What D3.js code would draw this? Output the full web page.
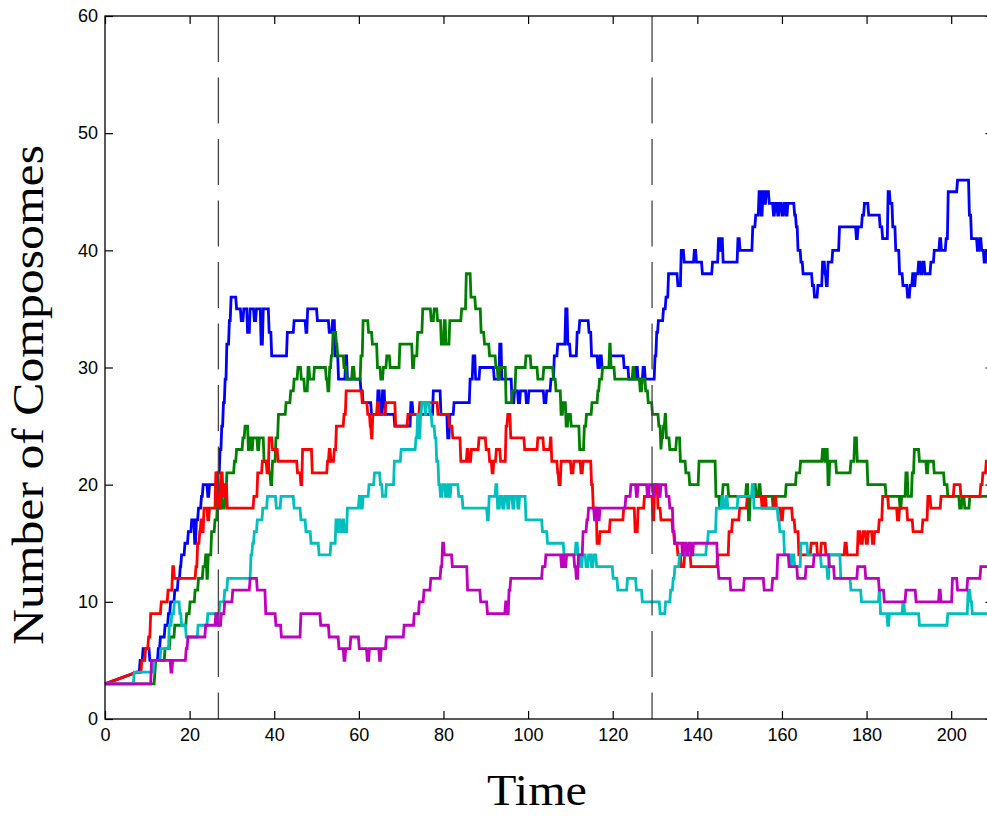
<!DOCTYPE html>
<html>
<head>
<meta charset="utf-8">
<script src="https://cdn.jsdelivr.net/npm/d3@7"></script>
<style>
  body { margin: 0; background: #fff; }
  svg { display: block; }
</style>
</head>
<body>
<svg id="chart" width="987" height="816"></svg>
<script>
// x ticks, y ticks and the two event markers
var xTicks = [0, 20, 40, 60, 80, 100, 120, 140, 160, 180, 200]
var yTicks = [0, 10, 20, 30, 40, 50, 60]
var markers = [26.8, 129.3]

// each run: [time, count] at the moments the count changes
var blueRun = [[0,3],[7.5,4],[8.3,5],[9,6],[10.6,5],[12.6,6],[13.1,7],[14.2,8],[15,9],[15.5,10],[16.5,11],[17.3,12],[17.8,13],[18.1,14],[18.9,15],[19.7,16],[20.5,17],[21.2,15],[21.6,17],[22.1,18],[22.8,19],[23.2,20],[24.3,19],[24.7,20],[26.6,21],[27.2,23],[27.6,25],[28,27],[28.4,29],[28.8,32],[29.4,34],[29.8,36],[31.1,35],[32.2,34],[32.8,35],[33.7,33],[34.3,35],[35.3,34],[35.8,35],[36.9,32],[37.4,35],[38.8,33],[39.4,31],[43.1,33],[44.7,34],[47.5,33],[47.9,35],[50.2,34],[53,33],[53.8,34],[54.4,31],[55.2,29],[56.9,31],[57.3,29],[60.5,28],[61,27],[63,26],[64.5,28],[65,26],[65.6,28],[66.2,26],[68.5,25],[72.3,27],[72.8,26],[77.6,28],[79.4,26],[81,24],[81.5,26],[82.5,27],[86.3,29],[87,31],[87.6,29],[88.6,30],[92,29],[93.3,32],[93.8,29],[96.2,27],[96.8,28],[97.7,27],[98.2,28],[99.6,27],[100.2,28],[103.8,27],[104.4,28],[105.4,29],[106.2,31],[107,32],[108.9,35],[109.4,32],[110,31],[111.6,33],[112.2,34],[114.4,33],[115,31],[116.5,30],[117,31],[117.5,30],[119.4,31],[122.7,30],[123.8,29],[125.5,30],[126,29],[127.2,30],[127.7,29],[130,31],[130.4,33],[130.8,34],[132,35],[132.6,36],[133.2,38],[135.4,37],[136.2,40],[136.9,39],[139.3,40],[139.8,39],[141.2,38],[143.6,39],[145,41],[145.4,40],[145.7,41],[146.1,39],[149.6,41],[150.1,40],[153.1,42],[153.8,43],[154.6,45],[155.1,43],[155.5,45],[156,44],[156.3,45],[157,44],[158,43],[158.4,44],[159,43],[159.4,44],[160,43],[160.5,44],[161,43],[161.4,44],[163,43],[163.4,42],[163.8,40],[164.5,39],[165,38],[167.2,37],[167.7,36],[168.5,37],[169.6,39],[170.2,38],[170.5,37],[170.9,39],[172,40],[173.6,42],[177.6,41],[178,42],[179,43],[179.5,44],[180.5,43],[183.2,42],[183.8,41],[185.1,45],[185.6,44],[186.2,42],[186.9,40],[187.8,38],[188.6,37],[189.7,36],[190.3,37],[190.9,38],[191.3,37],[191.6,38],[192.3,39],[192.8,38],[193.3,39],[193.8,38],[195.2,39],[196,40],[197.3,41],[197.7,40],[198.8,41],[199.3,45],[201.5,46],[204.3,43],[204.8,41],[206.2,40],[206.7,41],[207.2,40],[207.8,39],[208.3,40],[209,40]]

var greenRun = [[0,3],[11.8,4],[12,5],[14.2,6],[15.4,7],[16.5,8],[19.3,9],[20.1,10],[21.3,11],[22.1,12],[23.2,13],[23.8,14],[24.1,12],[24.4,14],[25.2,16],[26,17],[26.6,19],[27,18],[27.4,19],[27.8,18],[28.4,19],[28.8,21],[30.6,22],[31.1,23],[32.6,24],[33.1,25],[33.9,23],[34.2,24],[34.7,23],[35,24],[36.1,23],[36.5,24],[37.6,22],[38.8,21],[39.2,20],[39.6,22],[40.4,24],[41,26],[42.8,27],[43.9,28],[44.7,29],[45.6,30],[46.4,29],[47.2,28],[48,30],[48.4,29],[49.5,30],[52.3,29],[52.7,28],[53.1,30],[53.5,31],[53.9,33],[54.7,32],[55,31],[56.5,30],[57.1,29],[58.5,30],[59,29],[60.5,31],[61,34],[62.3,33],[63.2,32],[64.4,30],[65.2,29],[65.8,30],[66.6,31],[67.4,30],[69.7,32],[72.7,30],[73.1,31],[73.9,33],[75.1,35],[77.1,34],[77.8,35],[78.6,34],[79.5,32],[80.2,34],[80.6,32],[81.5,34],[84.3,35],[85.4,38],[86.5,36],[87.6,35],[88.9,33],[89.7,32],[90.9,31],[92.4,30],[92.9,29],[93.3,30],[94.8,27],[96.3,28],[97.1,30],[99.5,31],[100.7,30],[102.3,29],[103.7,30],[106,29],[106.6,28],[107.8,26],[108.3,27],[109,25],[109.5,26],[110.2,25],[112.2,23],[113.3,25],[113.8,26],[115.1,27],[116.5,28],[116.9,29],[117.6,30],[119.3,32],[119.6,30],[120.5,29],[124.8,30],[125.2,29],[126.5,28],[127,29],[127.8,28],[128.4,27],[129.4,26],[130.9,25],[131.4,23],[131.6,24],[132,25],[132.4,26],[132.7,24],[133.5,23],[135.1,24],[136,22],[137.3,21],[138.2,20],[140.4,22],[144.4,19],[145.3,18],[145.6,19],[146.1,20],[147.4,19],[151.6,20],[152.1,17],[152.5,19],[153.4,20],[153.9,19],[154.6,20],[155,19],[157.9,18],[158.3,19],[161,20],[163.4,21],[164.4,22],[169.6,23],[170.1,22],[170.4,23],[170.9,20],[171.3,22],[172.9,21],[176.3,22],[177.2,24],[177.8,22],[180.3,20],[184.6,19],[187.9,18],[188.3,19],[189.3,21],[189.8,19],[190.8,21],[191.3,23],[192.5,22],[194.2,21],[194.6,22],[196,21],[198.4,20],[199.2,19],[202,18],[202.6,19],[203.2,18],[204.4,19],[209,19]]

var redRun = [[0,3],[7.5,4],[8.7,5],[9.6,6],[10.3,7],[10.8,9],[13.3,10],[14.9,11],[16,13],[16.4,12],[21.5,13],[21.9,15],[22.4,16],[22.7,17],[23.1,16],[23.4,18],[24.3,17],[24.7,18],[26.2,21],[26.8,18],[27.4,21],[27.9,19],[28.4,20],[28.9,18],[35.2,19],[36.1,21],[37.2,22],[38.3,21],[38.8,24],[39.6,23],[40.9,22],[45.5,21],[46.3,20],[46.7,23],[49,21],[52.6,22],[53,23],[53.4,22],[54.2,23],[54.7,25],[56.5,26],[57,28],[60.8,27],[62.1,26],[62.7,25],[63,24],[63.3,26],[64.4,27],[64.8,26],[66.4,27],[68.7,25],[71.6,26],[74.4,27],[78.7,26],[81.4,25],[82.2,24],[84.1,22],[85.6,23],[86,22],[86.6,23],[88.4,24],[90.1,23],[90.9,22],[91.5,21],[91.9,22],[92.5,23],[93.5,22],[94.8,25],[95.2,26],[95.9,24],[99.2,23],[102.3,24],[103.7,23],[105.3,24],[105.6,22],[107,21],[107.3,20],[107.8,22],[110.2,21],[110.8,22],[112.5,21],[113,22],[115,20],[115.4,18],[116.3,15],[117,16],[119.4,17],[122.6,18],[125.3,16],[126,18],[127.5,19],[129.5,17],[129.9,20],[130.7,18],[131.4,17],[132.6,17],[134.2,16],[134.6,15],[135.4,14],[136.2,13],[137,14],[138.5,13],[144.8,14],[147.5,16],[148.3,17],[150,18],[151.8,19],[155.3,18],[155.8,19],[156.3,18],[158.2,19],[158.7,18],[159.8,17],[160.3,18],[162.5,17],[163.1,16],[164,14],[166.9,15],[168.4,14],[169.3,15],[170.4,14],[174.9,15],[175.4,14],[178,16],[178.6,15],[179.2,16],[179.9,15],[180.4,16],[181.4,15],[181.9,16],[183,17],[183.8,19],[185.2,18],[187.3,17],[187.8,18],[189.7,17],[191,16],[193.3,17],[194.5,19],[195.2,18],[197.6,19],[200.7,20],[202.3,19],[207,20],[207.5,21],[208.3,22],[209,22]]

var cyanRun = [[0,3],[6.9,4],[11.6,5],[13.2,6],[15.2,8],[15.8,9],[16.4,10],[17.7,9],[18.1,8],[19.2,7],[22,8],[24.3,9],[26.6,8],[27.1,10],[28.3,11],[29,12],[34.5,14],[34.9,15],[35.3,16],[36,17],[37.3,18],[38.4,19],[40.5,18],[41.6,19],[44.7,18],[46.3,17],[47.5,16],[48.7,15],[50.6,14],[53.4,15],[54.6,17],[55,16],[55.4,17],[55.7,16],[56.2,17],[56.6,16],[57.3,18],[60.1,19],[60.6,18],[61,19],[62.4,20],[63.7,21],[65.1,20],[65.6,19],[66.5,20],[68.4,22],[70,23],[73.5,24],[73.9,26],[74.2,24],[74.6,26],[74.9,27],[75.7,26],[76,27],[76.8,26],[77.3,25],[78,24],[78.4,22],[78.9,20],[79.3,19],[79.8,20],[80.5,19],[81,20],[81.4,19],[81.8,20],[83.6,19],[84.6,18],[90.4,17],[90.8,19],[92.4,20],[92.8,18],[93.4,19],[94,18],[94.5,19],[95.2,18],[95.6,19],[96.4,18],[96.8,19],[97.6,18],[98,19],[99.5,17],[103.4,16],[104.6,15],[108.5,14],[111.3,15],[111.8,14],[112.4,13],[112.9,14],[113.7,13],[114.3,14],[115,13],[115.5,14],[116.2,13],[120.1,12],[121.2,11],[123.5,12],[125.6,11],[127,10],[131.2,9],[132.5,10],[133.7,11],[134.3,12],[134.7,13],[135.8,14],[142.2,15],[142.6,16],[144.5,18],[145.8,19],[146.2,18],[146.8,19],[147.2,18],[149.6,19],[153,20],[153.4,18],[159.1,17],[159.5,16],[160.6,14],[162,13],[162.4,14],[163,13],[164.5,15],[166.1,14],[169.3,13],[170.8,12],[171.2,14],[173.9,12],[176.3,11],[178.8,10],[183,11],[183.3,9],[185,8],[185.4,9],[188.6,10],[189,9],[192.5,8],[199.2,9],[204,11],[204.6,10],[205,9],[209,9]]

var magentaRun = [[0,3],[11,5],[15.6,4],[16,5],[19.2,6],[19.6,7],[23.8,8],[26.2,9],[26.7,8],[27.5,9],[28.3,10],[30.2,11],[34.3,12],[36,11],[38,9],[40.4,8],[41.7,7],[46.3,9],[51,8],[53,7],[55.3,6],[56.5,5],[56.9,6],[58.1,7],[60.1,6],[62,5],[62.5,6],[64.9,5],[65.3,6],[66.5,7],[70.7,8],[73.1,9],[74.3,10],[75.4,11],[77,12],[79.4,13],[79.8,15],[80.2,14],[82.1,13],[85.7,11],[88.8,10],[90.4,9],[94.7,10],[95.1,9],[95.5,11],[95.9,12],[103.4,13],[104.2,14],[107.9,13],[108.3,14],[108.7,13],[109.1,14],[111,13],[111.4,12],[111.9,14],[113,16],[113.9,17],[114.3,18],[115.7,17],[116.1,18],[116.6,17],[117,18],[123.1,19],[124.3,20],[125.6,19],[126,20],[128.2,19],[128.7,20],[129.6,19],[130,20],[131,19],[131.4,20],[132.7,19],[133.5,18],[134.3,16],[134.7,15],[136.5,14],[136.9,15],[137.5,14],[138,15],[138.6,14],[139.1,15],[144.8,13],[145.1,12],[147.9,11],[151.1,12],[155.8,11],[157.8,12],[159,14],[161.7,13],[163.7,12],[165.7,13],[167.6,14],[171.2,13],[172.4,12],[177.9,13],[179.8,12],[183,11],[184.2,10],[189.3,11],[191.7,10],[197.2,11],[197.6,10],[200.3,12],[201.5,11],[203.9,12],[207,13],[209,13]]

var runs = [
    { name: 'blue', color: '#0000ff', data: blueRun, ramp: true },
    { name: 'green', color: '#008000', data: greenRun, ramp: false },
    { name: 'red', color: '#ff0000', data: redRun, ramp: true },
    { name: 'cyan', color: '#00bfbf', data: cyanRun, ramp: false },
    { name: 'magenta', color: '#bf00bf', data: magentaRun, ramp: false }
]

var svg = d3.select("#chart")

var x = d3.scaleLinear().domain([0, 210]).range([105, 993.5])
var y = d3.scaleLinear().domain([0, 60]).range([719, 16])

// hold each count until just before the next change
function stepPoints(run) {
    var pts = []
    run.data.forEach(function(d, i) {
        if (i > 0 && !(run.ramp && i === 1)) {
            var prev = run.data[i - 1]
            pts.push([Math.max(prev[0], d[0] - 0.2), prev[1]])
        }
        pts.push(d)
    })
    return pts
}

var line = d3.line()
    .x(d => x(d[0]))
    .y(d => y(d[1]))

svg.append("g")
    .selectAll("path")
    .data(runs)
    .enter()
        .append("path")
        .attr("fill", "none")
        .attr("stroke", d => d.color)
        .attr("stroke-width", 2.8)
        .attr("stroke-linejoin", "miter")
        .attr("d", d => line(stepPoints(d)))

svg.append("g")
    .selectAll("line")
    .data(markers)
    .enter()
        .append("line")
        .attr("x1", d => x(d)).attr("x2", d => x(d))
        .attr("y1", y(60)).attr("y2", y(0))
        .attr("stroke", "#444")
        .attr("stroke-width", 1.3)
        .attr("stroke-dasharray", "46,15.5")

// axes, ticks pointing inward
var font = "'Liberation Sans', Arial, sans-serif"

var axBottom = svg.append("g")
    .attr("transform", "translate(0," + y(0) + ")")
    .call(d3.axisBottom(x).tickValues(xTicks).tickSizeInner(-8).tickSizeOuter(0).tickPadding(9))
var axTop = svg.append("g")
    .attr("transform", "translate(0," + y(60) + ")")
    .call(d3.axisTop(x).tickValues(xTicks).tickSizeInner(-8).tickSizeOuter(0).tickFormat(""))
var axLeft = svg.append("g")
    .attr("transform", "translate(" + x(0) + ",0)")
    .call(d3.axisLeft(y).tickValues(yTicks).tickSizeInner(-8).tickSizeOuter(0).tickPadding(7))
var axRight = svg.append("g")
    .attr("transform", "translate(" + x(210) + ",0)")
    .call(d3.axisRight(y).tickValues(yTicks).tickSizeInner(-8).tickSizeOuter(0).tickFormat(""))

;[axBottom, axTop, axLeft, axRight].forEach(function(g) {
    g.select(".domain").remove()
    g.selectAll(".tick line").attr("stroke", "#000").attr("stroke-width", 1.2)
    g.selectAll(".tick text").attr("font-family", font).attr("font-size", 18).attr("fill", "#000")
})

svg.append("rect")
    .attr("x", x(0)).attr("y", y(60))
    .attr("width", x(210) - x(0)).attr("height", y(0) - y(60))
    .attr("fill", "none")
    .attr("stroke", "#000")
    .attr("stroke-width", 1.3)

var serif = "'Liberation Serif', 'Times New Roman', serif"

svg.append("text")
    .attr("x", 537).attr("y", 805)
    .attr("text-anchor", "middle")
    .attr("font-family", serif)
    .attr("font-size", 44)
    .attr("textLength", 100)
    .attr("lengthAdjust", "spacingAndGlyphs")
    .text("Time")

svg.append("text")
    .attr("transform", "translate(43,395) rotate(-90)")
    .attr("text-anchor", "middle")
    .attr("font-family", serif)
    .attr("font-size", 44)
    .attr("textLength", 500)
    .attr("lengthAdjust", "spacingAndGlyphs")
    .text("Number of Composomes")
</script>
</body>
</html>
